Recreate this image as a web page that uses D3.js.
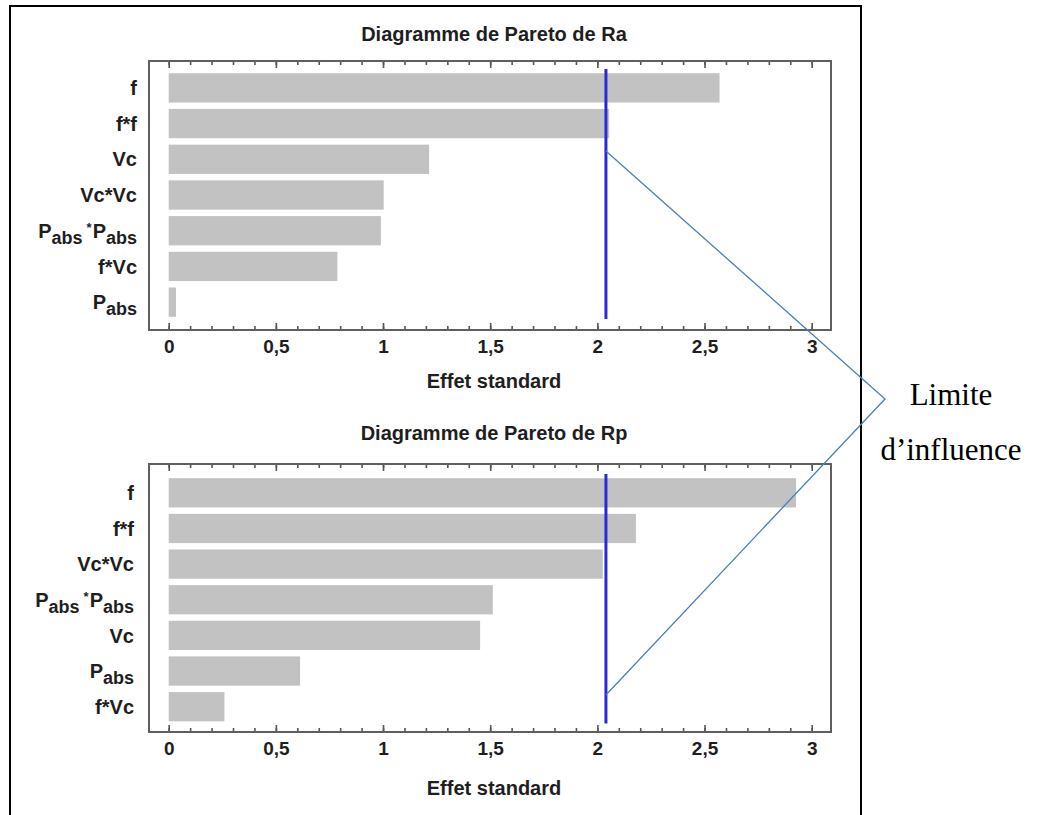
<!DOCTYPE html>
<html>
<head>
<meta charset="utf-8">
<script src="https://cdn.jsdelivr.net/npm/d3@7"></script>
<style>
  html, body { margin: 0; padding: 0; background: #fff; }
  svg { display: block; }
  .lab { font-family: "Liberation Sans", Arial, sans-serif; font-weight: bold; fill: #1e1e1e; }
</style>
</head>
<body>
<svg id="chart" width="1042" height="815"></svg>
<script>
// ---- Data ----
const categoriesRa = ["f", "f*f", "Vc", "Vc*Vc", "Pabs*Pabs", "f*Vc", "Pabs"];
const valuesRa     = [2.57, 2.055, 1.215, 1.003, 0.99, 0.787, 0.034];
const limitRa      = 2.04;

const categoriesRp = ["f", "f*f", "Vc*Vc", "Pabs*Pabs", "Vc", "Pabs", "f*Vc"];
const valuesRp     = [2.927, 2.18, 2.025, 1.512, 1.453, 0.613, 0.26];
const limitRp      = 2.04;

const xMajorTicks  = [0, 0.5, 1, 1.5, 2, 2.5, 3];
const xMinorTicks  = d3.range(0, 31).map(i => i / 10);
const titleRa = "Diagramme de Pareto de Ra";
const titleRp = "Diagramme de Pareto de Rp";
const xAxisLabel = "Effet standard";
const calloutText = ["Limite", "d\u2019influence"];

// ---- Drawing ----
const svg = d3.select("#chart");
const fr = d3.formatLocale({decimal: ",", thousands: " ", grouping: [3], currency: ["", "\u20ac"]}).format("~g");

// outer frame
svg.append("rect")
  .attr("x", 10).attr("y", 6).attr("width", 851).attr("height", 830)
  .attr("fill", "none").attr("stroke", "#000").attr("stroke-width", 2);

const x = d3.scaleLinear().domain([0, 3]).range([168.7, 811.7]);

function drawLabel(g, name, xr, yc) {
  const t = g.append("text").attr("class", "lab")
    .attr("x", xr).attr("y", yc).attr("dy", "0.36em")
    .attr("text-anchor", "end").attr("font-size", 20);
  if (name === "Pabs") {
    t.append("tspan").text("P");
    t.append("tspan").attr("font-size", 18).attr("dy", 6).text("abs");
  } else if (name === "Pabs*Pabs") {
    t.append("tspan").text("P");
    t.append("tspan").attr("font-size", 18).attr("dy", 6).text("abs");
    t.append("tspan").attr("font-size", 13).attr("dy", -12).attr("dx", 4).text("*");
    t.append("tspan").attr("font-size", 20).attr("dy", 6).attr("dx", 1).text("P");
    t.append("tspan").attr("font-size", 18).attr("dy", 6).text("abs");
  } else {
    t.text(name);
  }
}

function drawChart(cfg) {
  const g = svg.append("g");
  const y = d3.scaleBand().domain(cfg.cats).range(cfg.band).paddingInner(0.18).paddingOuter(0.09);

  // title
  g.append("text").attr("class", "lab").attr("font-size", 20)
    .attr("x", 494).attr("y", cfg.titleY).attr("text-anchor", "middle").text(cfg.title);

  // bars
  g.selectAll("rect.bar").data(cfg.cats.map((c, i) => ({c, v: cfg.vals[i]})))
    .join("rect").attr("class", "bar")
    .attr("x", x(0)).attr("y", d => y(d.c))
    .attr("width", d => x(d.v) - x(0)).attr("height", y.bandwidth())
    .attr("fill", "#c2c2c2");

  // axes (bottom and top ticks, inward)
  const bottom = g.append("g").attr("transform", `translate(0,${cfg.box[3]})`);
  bottom.call(d3.axisBottom(x).tickValues(xMinorTicks).tickSize(-4).tickFormat(""));
  bottom.append("g").call(d3.axisBottom(x).tickValues(xMajorTicks).tickSize(-7).tickPadding(10).tickFormat(fr));
  const top = g.append("g").attr("transform", `translate(0,${cfg.box[1]})`);
  top.call(d3.axisTop(x).tickValues(xMinorTicks).tickSize(-4).tickFormat(""));
  top.append("g").call(d3.axisTop(x).tickValues(xMajorTicks).tickSize(-7).tickFormat(""));
  g.selectAll(".domain").remove();
  g.selectAll(".tick line").attr("stroke", "#555").attr("stroke-width", 1.6);
  bottom.selectAll(".tick text").attr("class", "lab").attr("font-size", 19)
    .attr("font-family", null).attr("fill", "#1e1e1e");

  // plot box
  g.append("rect").attr("x", cfg.box[0]).attr("y", cfg.box[1])
    .attr("width", cfg.box[2] - cfg.box[0]).attr("height", cfg.box[3] - cfg.box[1])
    .attr("fill", "none").attr("stroke", "#5f5f5f").attr("stroke-width", 2);

  // y labels
  cfg.cats.forEach(c => drawLabel(g, c, cfg.labelX, y(c) + y.bandwidth() / 2));

  // limit line
  g.append("line").attr("x1", x(cfg.limit)).attr("x2", x(cfg.limit))
    .attr("y1", cfg.band[0] - 1).attr("y2", cfg.band[1] - 1)
    .attr("stroke", "#2a2ad4").attr("stroke-width", 3);

  // x axis label
  g.append("text").attr("class", "lab").attr("font-size", 20)
    .attr("x", 494).attr("y", cfg.axisLabelY).attr("text-anchor", "middle").text(xAxisLabel);

  return {x, lineX: x(cfg.limit)};
}

const a = drawChart({cats: categoriesRa, vals: valuesRa, limit: limitRa, title: titleRa,
  box: [149, 61, 831, 330], band: [70, 320], titleY: 41, axisLabelY: 388, labelX: 137});
const b = drawChart({cats: categoriesRp, vals: valuesRp, limit: limitRp, title: titleRp,
  box: [149, 464, 831, 732], band: [475, 724.5], titleY: 440, axisLabelY: 795, labelX: 134});

// callout
svg.append("polyline")
  .attr("points", `${a.lineX},151 885,399 ${b.lineX},695`)
  .attr("fill", "none").attr("stroke", "#4a7ebb").attr("stroke-width", 1.3);

svg.append("text").attr("x", 951).attr("y", 405).attr("text-anchor", "middle")
  .attr("font-family", "'Liberation Serif', 'Times New Roman', serif").attr("font-size", 31)
  .attr("fill", "#000").text(calloutText[0]);
svg.append("text").attr("x", 951).attr("y", 460).attr("text-anchor", "middle")
  .attr("font-family", "'Liberation Serif', 'Times New Roman', serif").attr("font-size", 31)
  .attr("fill", "#000").text(calloutText[1]);
</script>
</body>
</html>
